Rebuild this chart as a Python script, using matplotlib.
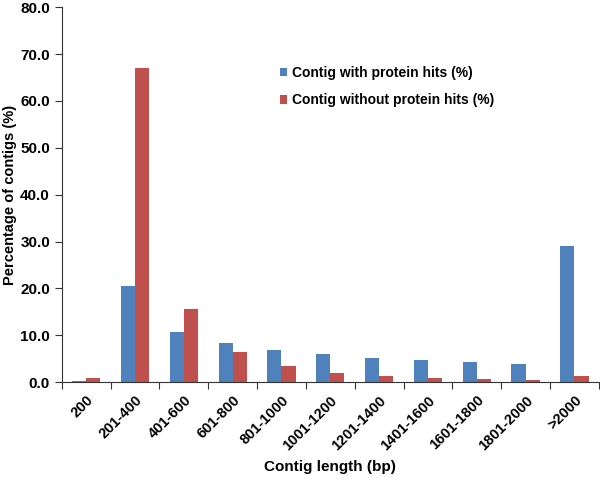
import matplotlib.pyplot as plt
import numpy as np

plt.rcParams['font.family'] = ['Liberation Sans', 'DejaVu Sans']
plt.rcParams['font.weight'] = 'bold'

categories = ["200", "201-400", "401-600", "601-800", "801-1000", "1001-1200",
              "1201-1400", "1401-1600", "1601-1800", "1801-2000", ">2000"]
with_hits = [0.2, 20.5, 10.7, 8.4, 6.8, 6.0, 5.2, 4.7, 4.2, 3.9, 29.0]
without_hits = [0.8, 67.0, 15.6, 6.5, 3.5, 2.0, 1.3, 0.9, 0.6, 0.4, 1.3]

fig = plt.figure(figsize=(6, 4.8), dpi=100)
ax = fig.add_axes([0.103, 0.204, 0.895, 0.781])

x = np.arange(len(categories))
w = 0.29
ax.bar(x - w / 2, with_hits, w, color="#4f81bd", label="Contig with protein hits (%)")
ax.bar(x + w / 2, without_hits, w, color="#c0504d", label="Contig without protein hits (%)")

ax.set_xlim(-0.5, len(categories) - 0.5)
ax.set_ylim(0, 80)
ax.set_yticks(np.arange(0, 81, 10))
ax.set_yticklabels([f"{v:.1f}" for v in np.arange(0, 81, 10)], fontsize=11, fontweight="bold")

# ticks between categories, labels at centres
ax.set_xticks(np.arange(-0.5, len(categories) + 0.5, 1))
ax.set_xticklabels([])
ax.set_xticks(x, minor=True)
ax.set_xticklabels(categories, minor=True, rotation=45, ha="right", va="top",
                   rotation_mode="anchor", fontsize=10.5, fontweight="bold")
ax.tick_params(axis="x", which="minor", length=0, pad=8)
ax.tick_params(axis="x", which="major", length=5, direction="out", color="#333333")
ax.tick_params(axis="y", length=5, direction="out", color="#333333")

for s in ["top", "right"]:
    ax.spines[s].set_visible(False)
ax.spines["left"].set_color("#333333")
ax.spines["bottom"].set_color("#333333")

ax.set_ylabel("Percentage of contigs (%)", fontsize=10.5, fontweight="bold", va="center")
ax.yaxis.set_label_coords(-0.097, 0.5)
ax.set_xlabel("Contig length (bp)", fontsize=11, fontweight="bold", va="center")
ax.xaxis.set_label_coords(0.5, -0.227)

ax.legend(loc="center left", bbox_to_anchor=(0.393, 0.788), frameon=False, fontsize=10,
          borderpad=0, handlelength=0.55, handleheight=0.55, handletextpad=0.3,
          labelspacing=0.95)

fig.savefig("out.png", dpi=100)
